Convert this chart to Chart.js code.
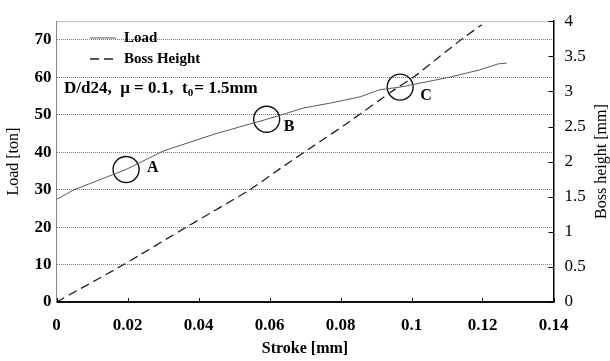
<!DOCTYPE html>
<html lang="en">
<head>
  <meta charset="UTF-8">
  <title>Load and Boss Height vs Stroke</title>
  <style>
    body { margin: 0; background: #fff; }
    #wrap { width: 610px; height: 361px; }
  </style>
</head>
<body>
  <div id="wrap"><canvas id="chart" width="610" height="361"></canvas></div>

  <script src="https://cdn.jsdelivr.net/npm/chart.js"></script>
  <script>
    // Load curve (left axis)
    const loadStroke = [0, 0.005, 0.0196, 0.030, 0.045, 0.0592, 0.0638, 0.0695, 0.077, 0.0855, 0.0911, 0.0968, 0.110, 0.1193, 0.1244, 0.1268];
    const loadValues = [27.4, 30, 35.4, 40.3, 45, 48.8, 50.1, 51.8, 53.1, 54.8, 56.7, 57.4, 59.9, 62, 63.6, 63.8];

    // Boss height curve (right axis)
    const bossStroke = [0, 0.0188, 0.0367, 0.0545, 0.063, 0.0723, 0.0817, 0.0939, 0.101, 0.108, 0.1146, 0.1198];
    const bossValues = [0, 0.53, 1.07, 1.60, 1.90, 2.22, 2.54, 2.98, 3.22, 3.50, 3.76, 3.95];

    // marked points on the load curve
    const markNames = ['A', 'B', 'C'];
    const markStroke = [0.0196, 0.0592, 0.0968];
    const markLoad = [35.4, 48.8, 57.4];

    const xTicks = [0, 0.02, 0.04, 0.06, 0.08, 0.1, 0.12, 0.14];
    const rightTicks = [0, 0.5, 1, 1.5, 2, 2.5, 3, 3.5, 4];

    const serif = '"Liberation Serif", "Times New Roman", serif';
    const pts = (xs, ys) => xs.map((x, i) => ({ x: x, y: ys[i] }));

    // extras: top border, inner tick marks, legend, note, point labels, right title
    const extras = {
      id: 'extras',
      afterDraw(chart) {
        const ctx = chart.ctx;
        const a = chart.chartArea;
        const x = chart.scales.x, yR = chart.scales.yR, y = chart.scales.y;
        ctx.save();

        // dotted top border
        ctx.strokeStyle = '#777';
        ctx.lineWidth = 1;
        ctx.setLineDash([1, 1]);
        ctx.beginPath();
        ctx.moveTo(a.left, a.top + 0.5);
        ctx.lineTo(a.right, a.top + 0.5);
        ctx.stroke();
        ctx.setLineDash([]);

        // inner tick marks
        ctx.strokeStyle = '#000';
        ctx.beginPath();
        xTicks.forEach(v => {
          const px = Math.round(x.getPixelForValue(v)) + 0.5;
          ctx.moveTo(px, a.bottom);
          ctx.lineTo(px, a.bottom - 4);
        });
        rightTicks.forEach(v => {
          const py = Math.round(yR.getPixelForValue(v)) + 0.5;
          ctx.moveTo(a.right, py);
          ctx.lineTo(a.right - 5, py);
        });
        ctx.stroke();

        // legend
        const ds = chart.data.datasets;
        ctx.font = 'bold 15px ' + serif;
        ctx.textBaseline = 'middle';
        ctx.fillStyle = '#000';
        [0, 1].forEach((i, k) => {
          const ly = 38 + k * 21;
          ctx.strokeStyle = ds[i].borderColor;
          ctx.lineWidth = ds[i].borderWidth;
          ctx.setLineDash(ds[i].borderDash || []);
          ctx.beginPath();
          ctx.moveTo(90, ly);
          ctx.lineTo(116, ly);
          ctx.stroke();
          ctx.setLineDash([]);
          ctx.fillText(ds[i].label, 124, ly);
        });

        // condition note
        let nx = 64;
        const ny = 89;
        const part1 = 'D/d24,  \u03bc = 0.1,  t';
        ctx.font = 'bold 17px ' + serif;
        ctx.fillText(part1, nx, ny);
        nx += ctx.measureText(part1).width;
        ctx.font = 'bold 11px ' + serif;
        ctx.fillText('0', nx, ny + 4);
        nx += ctx.measureText('0').width + 1;
        ctx.font = 'bold 17px ' + serif;
        ctx.fillText('= 1.5mm', nx, ny);

        // labels beside the marked points
        ctx.font = 'bold 16px ' + serif;
        const offs = [[21, -2], [17, 8], [20, 9]];
        markNames.forEach((n, i) => {
          const px = x.getPixelForValue(markStroke[i]);
          const py = y.getPixelForValue(markLoad[i]);
          ctx.fillText(n, px + offs[i][0], py + offs[i][1]);
        });

        // right axis title, reading bottom to top
        ctx.font = '16px ' + serif;
        ctx.textAlign = 'center';
        ctx.translate(602, (a.top + a.bottom) / 2);
        ctx.rotate(-Math.PI / 2);
        ctx.fillText('Boss height [mm]', 0, 0);

        ctx.restore();
      }
    };

    new Chart(document.getElementById('chart'), {
      type: 'line',
      data: {
        datasets: [
          {
            label: 'Load',
            data: pts(loadStroke, loadValues),
            yAxisID: 'y',
            borderColor: '#5a5a5a',
            borderWidth: 1,
            pointRadius: 0,
            tension: 0
          },
          {
            label: 'Boss Height',
            data: pts(bossStroke, bossValues),
            yAxisID: 'yR',
            borderColor: '#222',
            borderWidth: 1.3,
            borderDash: [9, 5],
            pointRadius: 0,
            tension: 0.2
          },
          {
            label: 'marks',
            data: pts(markStroke, markLoad),
            yAxisID: 'y',
            showLine: false,
            pointRadius: 13,
            pointBorderWidth: 1.4,
            pointBorderColor: '#111',
            pointBackgroundColor: 'rgba(0,0,0,0)'
          }
        ]
      },
      options: {
        responsive: false,
        animation: false,
        events: [],
        layout: { padding: { top: 9, left: 0, right: 0, bottom: 0 } },
        plugins: {
          legend: { display: false },
          tooltip: { enabled: false }
        },
        scales: {
          x: {
            type: 'linear',
            min: 0,
            max: 0.14,
            afterFit(s) { s.height = 59; },
            afterBuildTicks(s) { s.ticks = xTicks.map(v => ({ value: v })); },
            grid: { display: false, drawTicks: false },
            border: { color: '#111', width: 2 },
            ticks: {
              padding: 13,
              color: '#000',
              font: { family: serif, size: 17, weight: 'bold' },
              callback: v => String(Number(v.toFixed(2)))
            },
            title: {
              display: true,
              text: 'Stroke [mm]',
              color: '#000',
              padding: { top: 0, bottom: 3 },
              font: { family: serif, size: 16, weight: 'bold' }
            }
          },
          y: {
            position: 'left',
            min: 0,
            max: 75,
            afterFit(s) { s.width = 56.5; },
            ticks: {
              stepSize: 10,
              includeBounds: false,
              padding: 5,
              color: '#000',
              font: { family: serif, size: 17, weight: 'bold' }
            },
            grid: { color: '#7a7a7a', lineWidth: 1, drawTicks: false },
            border: { color: '#888', width: 1, dash: [1, 1] },
            title: {
              display: true,
              text: 'Load [ton]',
              color: '#000',
              padding: { top: 4, bottom: 0 },
              font: { family: serif, size: 16 }
            }
          },
          yR: {
            position: 'right',
            min: 0,
            max: 4,
            afterFit(s) { s.width = 56.5; },
            afterBuildTicks(s) { s.ticks = rightTicks.map(v => ({ value: v })); },
            ticks: {
              padding: 11,
              color: '#000',
              font: { family: serif, size: 17 },
              callback: v => String(v)
            },
            grid: { display: false, drawTicks: false },
            border: { color: '#000', width: 1.5 }
          }
        }
      },
      plugins: [extras]
    });
  </script>
</body>
</html>
